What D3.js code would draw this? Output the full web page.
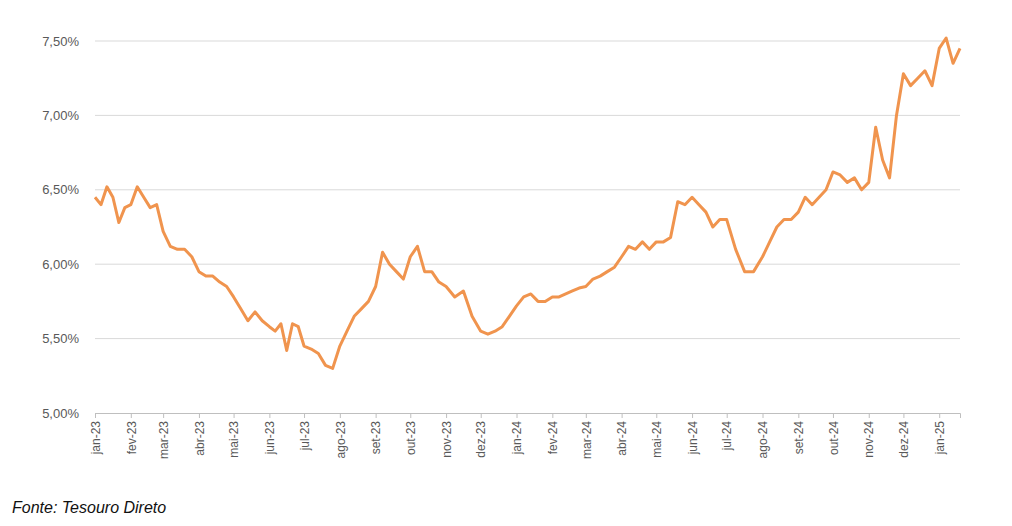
<!DOCTYPE html>
<html><head><meta charset="utf-8">
<script src="https://cdn.jsdelivr.net/npm/d3@7"></script>
<style>body{margin:0;background:#fff;font-family:"Liberation Sans",Arial,sans-serif}</style>
</head><body><div id="chart"></div>
<script>
// rótulos dos meses
var monthLabels = ['jan-23','fev-23','mar-23','abr-23','mai-23','jun-23','jul-23','ago-23','set-23','out-23','nov-23','dez-23',
  'jan-24','fev-24','mar-24','abr-24','mai-24','jun-24','jul-24','ago-24','set-24','out-24','nov-24','dez-24','jan-25'];
// taxas (%), aprox. semanais dentro de cada mês
var rates2023 = [
  [6.45,6.40,6.52,6.45,6.28,6.38],
  [6.40,6.52,6.45,6.38,6.40],
  [6.22,6.12,6.10,6.10,6.05],
  [5.95,5.92,5.92,5.88,5.85],
  [5.78,5.70,5.62,5.68,5.62],
  [5.58,5.55,5.60,5.42,5.60,5.58],
  [5.45,5.43,5.40,5.32,5.30],
  [5.45,5.55,5.65,5.70,5.75],
  [5.85,6.08,6.00,5.95,5.90],
  [6.05,6.12,5.95,5.95,5.88],
  [5.85,5.78,5.82,5.65],
  [5.55,5.53,5.55,5.58,5.65]
];
var rates2024 = [
  [5.72,5.78,5.80,5.75,5.75],
  [5.78,5.78,5.80,5.82,5.84],
  [5.85,5.90,5.92,5.95,5.98],
  [6.05,6.12,6.10,6.15,6.10],
  [6.15,6.15,6.18,6.42,6.40],
  [6.45,6.40,6.35,6.25,6.30],
  [6.30,6.10,5.95,5.95],
  [6.05,6.15,6.25,6.30,6.30],
  [6.35,6.45,6.40,6.45,6.50],
  [6.62,6.60,6.55,6.58,6.50],
  [6.55,6.92,6.70,6.58,7.00],
  [7.28,7.20,7.25,7.30,7.20]
];
var rates2025 = [
  [7.45,7.52,7.35,7.45]
];
var yTicks = [5.0,5.5,6.0,6.5,7.0,7.5];

var dataset = [];
rates2023.concat(rates2024, rates2025).forEach(function (m, i) {
  var start = new Date(2023, i, 1), end = new Date(2023, i + 1, 1);
  var span = (i === 24) ? (new Date(2025, 0, 19) - start) : (end - start);
  m.forEach(function (v, j) {
    dataset.push([new Date(+start + span * j / (m.length - (i === 24 ? 1 : 0))), v]);
  });
});

var width = 1012, height = 526;
var padding = {top: 41, right: 52, bottom: 113, left: 95};

var xScale = d3.scaleTime()
  .domain([new Date(2023, 0, 1), new Date(2025, 0, 19)])
  .range([padding.left, width - padding.right]);
var yScale = d3.scaleLinear()
  .domain([5, 7.5])
  .range([height - padding.bottom, padding.top]);

var svg = d3.select('#chart').append('svg')
  .attr('width', width).attr('height', height);

svg.append('g').selectAll('line').data(yTicks.slice(1)).enter().append('line')
  .attr('x1', padding.left).attr('x2', width - padding.right)
  .attr('y1', function (d) { return yScale(d); }).attr('y2', function (d) { return yScale(d); })
  .attr('stroke', '#d9d9d9');

var yAxis = d3.axisLeft(yScale).tickValues(yTicks).tickSize(0).tickPadding(16)
  .tickFormat(function (d) { return d.toFixed(2).replace('.', ',') + '%'; });
var gy = svg.append('g').attr('transform', 'translate(' + padding.left + ',0)').call(yAxis);
gy.select('.domain').remove();
gy.selectAll('text').attr('fill', '#595959').style('font-size', '13px');

var monthDates = monthLabels.map(function (l, i) { return new Date(2023, i, 1); });
var xAxis = d3.axisBottom(xScale).tickValues(monthDates).tickSize(5)
  .tickFormat(function (d, i) { return monthLabels[i]; });
var gx = svg.append('g').attr('transform', 'translate(0,' + (height - padding.bottom) + ')').call(xAxis);
gx.select('.domain').attr('stroke', '#bfbfbf');
gx.selectAll('line').attr('stroke', '#bfbfbf');
gx.selectAll('text').attr('fill', '#595959').style('font-size', '12px')
  .attr('transform', 'rotate(-90)').attr('text-anchor', 'end')
  .attr('x', -8).attr('y', 0).attr('dy', '0.35em');

var linePath = d3.line()
  .x(function (d) { return xScale(d[0]); })
  .y(function (d) { return yScale(d[1]); });
svg.append('path').attr('d', linePath(dataset))
  .attr('fill', 'none').attr('stroke', '#f0944e').attr('stroke-width', 3)
  .attr('stroke-linejoin', 'round');

svg.append('text').attr('x', 12).attr('y', 513)
  .style('font-style', 'italic').style('font-size', '16px').attr('fill', '#111')
  .text('Fonte: Tesouro Direto');
</script></body></html>
